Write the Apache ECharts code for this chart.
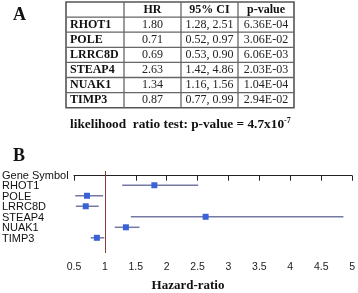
<!DOCTYPE html>
<html>
<head>
<meta charset="utf-8">
<script src="https://cdn.jsdelivr.net/npm/echarts@6/dist/echarts.min.js"></script>
<style>
  html, body { margin: 0; padding: 0; background: #fff; }
  #chart { width: 358px; height: 293px; }
</style>
</head>
<body>
<div id="chart"></div>
<script>
// Datos del modelo de Cox
const genes = ['RHOT1', 'POLE', 'LRRC8D', 'STEAP4', 'NUAK1', 'TIMP3'];
const hr = [1.80, 0.71, 0.69, 2.63, 1.34, 0.87];
const ciLow = [1.28, 0.52, 0.53, 1.42, 1.16, 0.77];
const ciHigh = [2.51, 0.97, 0.90, 4.86, 1.56, 0.99];
const pValues = ['6.36E-04', '3.06E-02', '6.06E-03', '2.03E-03', '1.04E-04', '2.94E-02'];
const tableHeader = ['', 'HR', '95% CI', 'p-value'];
const yLabels = ['Gene Symbol'].concat(genes);
const xTicks = [0.5, 1, 1.5, 2, 2.5, 3, 3.5, 4, 4.5, 5];

const myChart = echarts.init(document.getElementById('chart'));

// Tabla (panel A) con elementos graphic
const serif = '"Liberation Serif", "Times New Roman", serif';
const colX = [66, 124, 181, 238, 294];
const rowTop = 2;
const rowH = 15.1;
const nRows = genes.length + 1;
const tableEls = [];

// bordes
tableEls.push({
  type: 'rect',
  shape: { x: colX[0], y: rowTop, width: colX[4] - colX[0], height: rowH * nRows },
  style: { fill: 'none', stroke: '#555', lineWidth: 1.6 }
});
for (let r = 1; r < nRows; r++) {
  tableEls.push({
    type: 'line',
    shape: { x1: colX[0], y1: rowTop + r * rowH, x2: colX[4], y2: rowTop + r * rowH },
    style: { stroke: '#666', lineWidth: 1.3 }
  });
}
for (let c = 1; c < 4; c++) {
  tableEls.push({
    type: 'line',
    shape: { x1: colX[c], y1: rowTop, x2: colX[c], y2: rowTop + rowH * nRows },
    style: { stroke: '#666', lineWidth: 1.3 }
  });
}

// encabezado
for (let c = 1; c < 4; c++) {
  tableEls.push({
    type: 'text',
    style: {
      x: (colX[c] + colX[c + 1]) / 2, y: rowTop + rowH / 2,
      text: tableHeader[c], textAlign: 'center', textVerticalAlign: 'middle',
      font: 'bold 12px ' + serif, fill: '#111'
    }
  });
}

// filas
genes.forEach(function (g, i) {
  const cy = rowTop + (i + 1.5) * rowH;
  const cells = [hr[i].toFixed(2), ciLow[i].toFixed(2) + ', ' + ciHigh[i].toFixed(2), pValues[i]];
  tableEls.push({
    type: 'text',
    style: {
      x: colX[0] + 4, y: cy, text: g, textAlign: 'left', textVerticalAlign: 'middle',
      font: 'bold 12px ' + serif, fill: '#111'
    }
  });
  cells.forEach(function (t, c) {
    tableEls.push({
      type: 'text',
      style: {
        x: (colX[c + 1] + colX[c + 2]) / 2, y: cy, text: t,
        textAlign: 'center', textVerticalAlign: 'middle',
        font: '12px ' + serif, fill: '#222'
      }
    });
  });
});

option = {
  animation: false,
  graphic: tableEls.concat([
    {
      type: 'text',
      style: { x: 13, y: 15, text: 'A', textVerticalAlign: 'middle', font: 'bold 18px ' + serif, fill: '#111' }
    },
    {
      type: 'text',
      style: { x: 13, y: 156, text: 'B', textVerticalAlign: 'middle', font: 'bold 18px ' + serif, fill: '#111' }
    },
    {
      type: 'text',
      style: {
        x: 70, y: 125, textVerticalAlign: 'middle',
        text: '{a|likelihood  ratio test: p-value = 4.7x10}{s|-7}',
        rich: {
          a: { font: 'bold 13.3px ' + serif, fill: '#111', lineHeight: 16 },
          s: { font: 'bold 8px ' + serif, fill: '#111', lineHeight: 16, verticalAlign: 'top', padding: [0, 0, 8, 0] }
        }
      }
    },
    {
      type: 'text',
      style: {
        x: 188, y: 286, text: 'Hazard-ratio', textAlign: 'center', textVerticalAlign: 'middle',
        font: 'bold 13px ' + serif, fill: '#111'
      }
    }
  ]),

  grid: {
    left: 74,
    right: 4,
    top: 171,
    bottom: 40
  },
  xAxis: {
    type: 'value',
    min: 0.5,
    max: 5,
    interval: 0.5,
    axisLine: { lineStyle: { color: '#222', width: 1 } },
    axisTick: { show: true, inside: false, length: 5, lineStyle: { color: '#222', width: 1 } },
    splitLine: { show: false },
    axisLabel: {
      margin: 9,
      fontSize: 10.5,
      fontFamily: '"Liberation Sans", Arial, sans-serif',
      color: '#222',
      showMinLabel: true,
      showMaxLabel: true,
      formatter: function (v) { return String(v); }
    }
  },
  yAxis: {
    type: 'value',
    inverse: true,
    min: -0.45,
    max: 7.35,
    axisLine: { show: false },
    axisTick: { show: false },
    splitLine: { show: false },
    axisLabel: { show: false }
  },
  series: [
    {
      // nombres de los genes (columna izquierda)
      type: 'scatter',
      silent: true,
      symbolSize: 0,
      clip: false,
      itemStyle: { opacity: 1 },
      data: yLabels.map(function (n, i) { return [xTicks[0], i]; }),
      label: {
        show: true,
        position: [-72, 0],
        align: 'left',
        verticalAlign: 'middle',
        fontSize: 11,
        fontFamily: '"Liberation Sans", Arial, sans-serif',
        color: '#111',
        formatter: function (p) { return yLabels[p.dataIndex]; }
      }
    },
    {
      // intervalos de confianza
      type: 'custom',
      silent: true,
      data: genes.map(function (g, i) { return [ciLow[i], ciHigh[i], i + 1]; }),
      encode: { x: [0, 1], y: 2 },
      renderItem: function (params, api) {
        const p1 = api.coord([api.value(0), api.value(2)]);
        const p2 = api.coord([api.value(1), api.value(2)]);
        return {
          type: 'line',
          shape: { x1: p1[0], y1: p1[1] - 1, x2: p2[0], y2: p2[1] - 1 },
          style: { stroke: '#7479a3', lineWidth: 1.5 }
        };
      },
      markLine: {
        silent: true,
        symbol: 'none',
        label: { show: false },
        lineStyle: { color: '#8e3b3b', type: 'solid', width: 1 },
        data: [{ xAxis: 1 }]
      }
    },
    {
      type: 'scatter',
      symbol: 'rect',
      symbolSize: 6,
      symbolOffset: [0, -1],
      itemStyle: { color: '#3a62d8', opacity: 1 },
      data: genes.map(function (g, i) { return [hr[i], i + 1]; })
    }
  ]
};

myChart.setOption(option);
</script>
</body>
</html>
